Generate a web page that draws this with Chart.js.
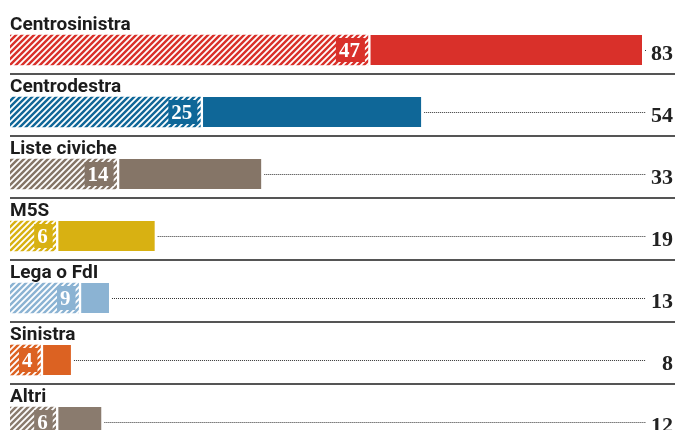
<!DOCTYPE html>
<html>
<head>
<meta charset="utf-8">
<script src="https://cdn.jsdelivr.net/npm/chart.js@4.4.1/dist/chart.umd.min.js"></script>
<style>
html,body{margin:0;padding:0;background:#fff;overflow:hidden;}
#wrap{width:675px;height:430px;overflow:hidden;position:relative;}
canvas{display:block;}
</style>
</head>
<body>
<div id="wrap"><canvas id="c" width="675" height="453"></canvas></div>
<script>
const categories = ['Centrosinistra','Centrodestra','Liste civiche','M5S','Lega o FdI','Sinistra','Altri'];
const hatchedValues = [47,25,14,6,9,4,6];
const totalValues = [83,54,33,19,13,8,12];
const colors = ['#d9302a','#0f6798','#857567','#d8b112','#8bb3d3','#dc6222','#8a7b6e'];

const solidValues = totalValues.map((t,i)=>t-hatchedValues[i]);

function hatch(color){
  const p = 6;
  const c = document.createElement('canvas');
  c.width = p; c.height = p;
  const g = c.getContext('2d');
  g.fillStyle = color; g.fillRect(0,0,p,p);
  g.strokeStyle = '#ffffff'; g.lineWidth = 1.8;
  g.beginPath();
  g.moveTo(-1,1); g.lineTo(1,-1);
  g.moveTo(0,p); g.lineTo(p,0);
  g.moveTo(p-1,p+1); g.lineTo(p+1,p-1);
  g.stroke();
  return g.createPattern(c,'repeat');
}

const overlay = {
  id:'overlay',
  afterDatasetsDraw(chart){
    const ctx = chart.ctx;
    const xs = chart.scales.x, ys = chart.scales.y;
    const left = xs.getPixelForValue(0);
    ctx.save();
    categories.forEach((cat,i)=>{
      const yc = ys.getPixelForValue(i);
      const top = yc - 15;
      // category label
      ctx.font = 'bold 19px Roboto';
      ctx.fillStyle = '#1c1c1c';
      ctx.textAlign = 'left';
      ctx.textBaseline = 'alphabetic';
      ctx.fillText(cat, left, top - 5);
      // separator
      if (i < categories.length - 1){
        ctx.strokeStyle = '#555';
        ctx.lineWidth = 2;
        ctx.beginPath();
        ctx.moveTo(left, Math.round(yc + 24));
        ctx.lineTo(675, Math.round(yc + 24));
        ctx.stroke();
      }
      // dotted line
      const endX = xs.getPixelForValue(totalValues[i]);
      ctx.strokeStyle = '#333';
      ctx.lineWidth = 1;
      ctx.setLineDash([1,1]);
      ctx.beginPath();
      ctx.moveTo(endX + 3, Math.round(yc)+0.5);
      ctx.lineTo(646, Math.round(yc)+0.5);
      ctx.stroke();
      ctx.setLineDash([]);
      // total label
      ctx.font = 'bold 22px "Liberation Serif"';
      ctx.fillStyle = '#222';
      ctx.textAlign = 'right';
      ctx.textBaseline = 'middle';
      ctx.fillText(String(totalValues[i]), 673, yc + 4);
      // inner label
      const hx = xs.getPixelForValue(hatchedValues[i]);
      ctx.font = 'bold 21px "Liberation Serif"';
      const txt = String(hatchedValues[i]);
      const w = ctx.measureText(txt).width;
      const tr = hx - 8;
      ctx.fillStyle = colors[i];
      ctx.fillRect(tr - w - 3, yc - 12, w + 8, 24);
      ctx.fillStyle = '#fff';
      ctx.textAlign = 'right';
      ctx.fillText(txt, tr, yc + 2);
    });
    ctx.restore();
  }
};

new Chart(document.getElementById('c'), {
  type:'bar',
  data:{
    labels: categories,
    datasets:[
      {data: hatchedValues, backgroundColor: colors.map(hatch), borderWidth:0, barThickness:30},
      {data: solidValues, backgroundColor: colors, borderColor:'#ffffff',
       borderWidth:{left:3,right:0,top:0,bottom:0}, borderSkipped:false, barThickness:30}
    ]
  },
  options:{
    indexAxis:'y',
    responsive:false,
    devicePixelRatio:1,
    animation:false,
    layout:{padding:{left:10,right:33,top:19,bottom:0}},
    plugins:{legend:{display:false},tooltip:{enabled:false}},
    scales:{
      x:{display:false,stacked:true,min:0,max:83},
      y:{display:false,stacked:true}
    }
  },
  plugins:[overlay]
});
</script>
</body>
</html>
